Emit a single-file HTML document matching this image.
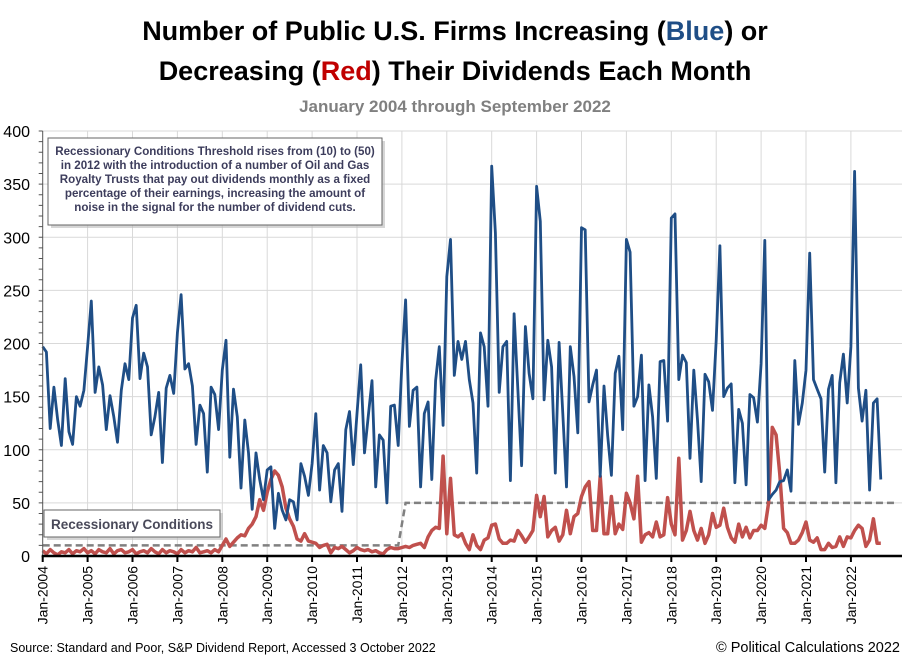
<!DOCTYPE html>
<html><head><meta charset="utf-8"><style>
body{margin:0;background:#fff;width:910px;height:661px;overflow:hidden;font-family:"Liberation Sans",sans-serif}
</style></head><body>
<svg id="chart" width="910" height="661" xmlns="http://www.w3.org/2000/svg" font-family="Liberation Sans, sans-serif">
<text x="455" y="40" text-anchor="middle" font-size="27" font-weight="bold" fill="#000">Number of Public U.S. Firms Increasing (<tspan fill="#1f4e86">Blue</tspan>) or</text>
<text x="455" y="80" text-anchor="middle" font-size="27" font-weight="bold" fill="#000">Decreasing (<tspan fill="#c00000">Red</tspan>) Their Dividends Each Month</text>
<text x="455" y="112" text-anchor="middle" font-size="17" font-weight="bold" fill="#808080">January 2004 through September 2022</text>
<g id="grid"></g><g id="series"></g><g id="axes"></g>
<g>
<rect x="51" y="141" width="334" height="87" fill="#bbb" opacity="0.6"/>
<rect x="48" y="138" width="334" height="87" fill="#fff" stroke="#666" stroke-width="1"/>
<text x="215" y="155" text-anchor="middle" font-size="11.6" font-weight="bold" fill="#3d3d5c">Recessionary Conditions Threshold rises from (10) to (50)</text>
<text x="215" y="169" text-anchor="middle" font-size="11.6" font-weight="bold" fill="#3d3d5c">in 2012 with the introduction of a number of Oil and Gas</text>
<text x="215" y="183" text-anchor="middle" font-size="11.6" font-weight="bold" fill="#3d3d5c">Royalty Trusts that pay out dividends monthly as a fixed</text>
<text x="215" y="197" text-anchor="middle" font-size="11.6" font-weight="bold" fill="#3d3d5c">percentage of their earnings, increasing the amount of</text>
<text x="215" y="211" text-anchor="middle" font-size="11.6" font-weight="bold" fill="#3d3d5c">noise in the signal for the number of dividend cuts.</text>
</g>
<g>
<rect x="47" y="513" width="176" height="27" fill="#bbb" opacity="0.6"/>
<rect x="44" y="510" width="176" height="27" fill="#fff" stroke="#666" stroke-width="1"/>
<text x="132" y="529" text-anchor="middle" font-size="13.5" font-weight="bold" fill="#4a4a5a">Recessionary Conditions</text>
</g>
<text x="10" y="652" font-size="12.5" fill="#000">Source: Standard and Poor, S&amp;P Dividend Report, Accessed 3 October 2022</text>
<text x="900" y="652" text-anchor="end" font-size="14.5" fill="#000">© Political Calculations 2022</text>
</svg>
<script>
const yTicks=[0,50,100,150,200,250,300,350,400];
const yearLabels=["Jan-2004","Jan-2005","Jan-2006","Jan-2007","Jan-2008","Jan-2009","Jan-2010","Jan-2011","Jan-2012","Jan-2013","Jan-2014","Jan-2015","Jan-2016","Jan-2017","Jan-2018","Jan-2019","Jan-2020","Jan-2021","Jan-2022"];
const increases=[197,192,120,159,128,104,167,117,105,150,141,156,
197,240,154,178,161,119,151,131,107,156,181,166,
224,236,167,191,178,114,131,154,88,158,170,153,
210,246,176,181,160,105,142,134,79,159,152,119,
175,203,93,157,131,64,128,97,44,97,
72,53,81,84,26,59,43,34,53,51,34,87,75,57,87,134,62,104,97,51,81,87,42,119,136,86,134,180,97,131,165,65,114,109,50,141,142,104,181,241,122,156,159,65,134,145,72,165,197,123,
263,298,170,202,185,202,166,144,78,210,197,141,367,304,154,197,202,71,228,156,85,216,172,148,348,315,147,203,178,78,201,134,65,197,169,116,309,307,145,161,175,75,160,113,76,172,188,119,298,286,141,150,189,71,161,131,73,
183,184,127,318,322,166,189,182,92,175,128,70,171,164,137,203,292,150,158,162,69,138,125,67,152,149,126,181,297,53,58,62,70,71,81,61,184,124,144,175,285,166,157,148,79,157,170,69,163,190,144,197,362,158,127,156,62,144,148,72];
const decreases=[5,2,6,3,1,4,3,6,2,5,4,7,3,5,2,6,4,3,7,2,5,6,3,4,6,2,4,5,3,7,4,2,6,3,5,4,2,6,3,5,4,8,3,4,5,3,6,4,
10,16,9,13,17,20,19,
26,30,37,53,43,60,72,80,76,65,45,35,28,16,14,21,14,13,12,8,10,11,3,8,7,9,6,3,5,8,6,5,6,4,5,3,2,6,8,7,7,8,9,8,10,11,12,8,18,24,27,
26,94,21,73,20,18,21,12,6,20,10,6,15,17,29,30,16,12,12,15,14,24,19,13,18,24,
57,37,56,18,24,27,14,20,43,21,37,40,56,65,70,24,24,75,21,21,56,21,30,25,59,50,35,75,13,20,22,18,32,18,20,55,
30,20,92,15,24,42,24,15,26,12,20,40,27,29,45,27,17,13,30,18,27,17,24,24,29,26,50,121,114,77,26,22,12,12,15,22,32,15,13,17,6,6,12,8,9,18,9,18,17,24,29,26,9,15,35,12,12];
const thresholdLevels=[10,10,50,50];
const thresholdMonths=[0,95,97,228];

const NS="http://www.w3.org/2000/svg";
const X0=42.7, MONTH=44.9/12, Y0=556, YS=425/400;
function xs(i){return X0+i*MONTH;}
function ys(v){return Y0-v*YS;}
function mk(tag,attrs,parent){const e=document.createElementNS(NS,tag);for(const k in attrs)e.setAttribute(k,attrs[k]);parent.appendChild(e);return e;}
const grid=document.getElementById('grid'),axes=document.getElementById('axes'),ser=document.getElementById('series');
yTicks.forEach(v=>{
  if(v>0){const l=mk('line',{x1:X0,x2:902,y1:ys(v),y2:ys(v),stroke:'#d9d9d9','stroke-width':1},grid);
  
  }
  const t=mk('text',{x:30,y:ys(v)+6,'text-anchor':'end','font-size':16,fill:'#000'},axes);
  t.textContent=v;
  
  
});
for(let v=10;v<=400;v+=10){mk('line',{x1:X0-4,x2:X0,y1:ys(v),y2:ys(v),stroke:'#555','stroke-width':1},axes);}
yearLabels.forEach((lab,k)=>{
  const x=xs(k*12);
  if(k>0){const g=mk('line',{x1:x,x2:x,y1:ys(400),y2:Y0,stroke:'#d9d9d9','stroke-width':1},grid);
  
  }
  mk('line',{x1:x,x2:x,y1:Y0,y2:Y0+6,stroke:'#000','stroke-width':2},axes);
  const t=mk('text',{x:0,y:0,'text-anchor':'end','font-size':14,fill:'#000',transform:`translate(${x+5},${Y0+10}) rotate(-90)`},axes);
  t.textContent=lab;
  
  
});
const ya=mk('line',{x1:X0,x2:X0,y1:ys(400),y2:Y0,stroke:'#555','stroke-width':1},axes);


const xa=mk('line',{x1:X0-1,x2:902,y1:Y0,y2:Y0,stroke:'#000','stroke-width':2.5},axes);


function path(vals,idx){return vals.map((v,j)=>(j?'L':'M')+xs(idx?idx[j]:j).toFixed(1)+' '+ys(v).toFixed(1)).join(' ');}
const th=mk('path',{d:path(thresholdLevels,thresholdMonths),fill:'none',stroke:'#808080','stroke-width':2.5,'stroke-dasharray':'7,4'},ser);


const red=mk('path',{d:path(decreases),fill:'none',stroke:'#c0504d','stroke-width':3.5,'stroke-linejoin':'round'},ser);


const blue=mk('path',{d:path(increases),fill:'none',stroke:'#1f4e86','stroke-width':2.8,'stroke-linejoin':'round'},ser);


</script>
</body></html>
